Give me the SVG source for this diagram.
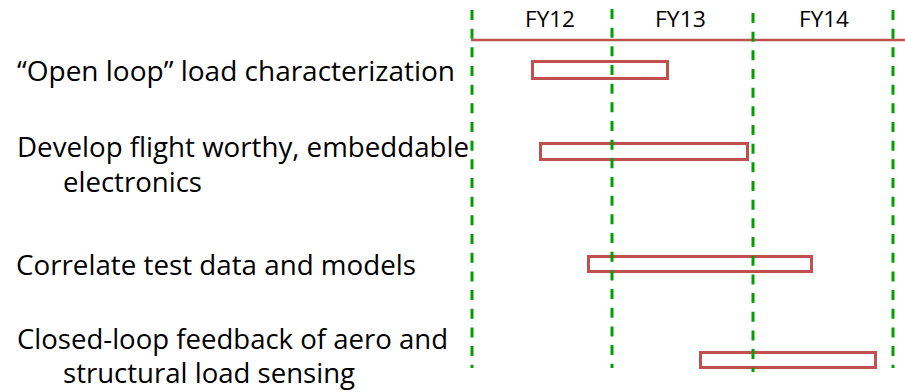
<svg xmlns="http://www.w3.org/2000/svg" width="905" height="392" viewBox="0 0 905 392">
<style>
.lbl{font-family:"Open Sans","Liberation Sans",sans-serif;font-size:26.5px;fill:#000}
.fy{font-family:"Open Sans","Liberation Sans",sans-serif;font-size:22.5px;fill:#000;text-anchor:middle}
.bar{fill:#fff;stroke:#c0504d;stroke-width:3}
.grid{stroke:#00a000;stroke-width:3;stroke-dasharray:10 8.67;fill:none}
.axis{stroke:#c0504d;stroke-width:2.5;fill:none}
</style>
<rect width="905" height="392" fill="#fff"/>
<g id="header">
<text class="fy" x="550" y="27" textLength="50" lengthAdjust="spacingAndGlyphs">FY12</text>
<text class="fy" x="680.5" y="27" textLength="51" lengthAdjust="spacingAndGlyphs">FY13</text>
<text class="fy" x="824" y="27" textLength="50" lengthAdjust="spacingAndGlyphs">FY14</text>
</g>
<g id="task1">
<text class="lbl" x="17" y="81" textLength="438" lengthAdjust="spacingAndGlyphs">“Open loop” load characterization</text>
<rect class="bar" x="532.5" y="61.5" width="135" height="17"/>
</g>
<g id="task2">
<text class="lbl" x="17" y="157" textLength="452" lengthAdjust="spacingAndGlyphs">Develop flight worthy, embeddable</text>
<text class="lbl" x="63" y="192" textLength="139" lengthAdjust="spacingAndGlyphs">electronics</text>
<rect class="bar" x="540.5" y="143.5" width="207" height="16"/>
</g>
<g id="task3">
<text class="lbl" x="16" y="275" textLength="400" lengthAdjust="spacingAndGlyphs">Correlate test data and models</text>
<rect class="bar" x="588.5" y="256.5" width="223" height="15"/>
</g>
<g id="task4">
<text class="lbl" x="17" y="349" textLength="431" lengthAdjust="spacingAndGlyphs">Closed-loop feedback of aero and</text>
<text class="lbl" x="63" y="383" textLength="292" lengthAdjust="spacingAndGlyphs">structural load sensing</text>
<rect class="bar" x="700.5" y="352.5" width="175" height="15"/>
</g>
<g id="connectors">
<line class="axis" x1="471" y1="40" x2="905" y2="40"/>
<line class="grid" x1="472" y1="10" x2="472" y2="368"/>
<line class="grid" x1="612" y1="9" x2="612" y2="368"/>
<line class="grid" x1="753" y1="13" x2="753" y2="372"/>
<line class="grid" x1="893" y1="10" x2="893" y2="368"/>
</g>
</svg>
